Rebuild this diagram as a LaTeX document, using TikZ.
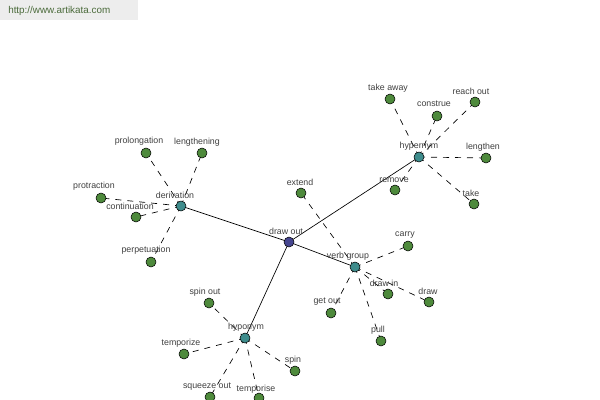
\documentclass[tikz,border=0pt]{standalone}
\usepackage{fontspec}
\setmainfont{Liberation Sans}
\begin{document}
\begin{tikzpicture}[x=0.75pt,y=-0.75pt,
  leaf/.style={circle,draw=black,line width=0.4pt,fill=leafc,minimum size=7.5pt,inner sep=0pt},
  hub/.style={leaf,fill=hubc},
  root/.style={leaf,fill=rootc},
  lbl/.style={font=\fontsize{6.6pt}{7pt}\selectfont,text=lblc,inner sep=0pt},
  solidedge/.style={draw=black,line width=0.5pt},
  dashedge/.style={draw=black,line width=0.5pt,dash pattern=on 4.5pt off 4.5pt}]
\definecolor{leafc}{HTML}{4E8A3C}
\definecolor{hubc}{HTML}{3E8C8C}
\definecolor{rootc}{HTML}{45458F}
\definecolor{lblc}{HTML}{404040}
\definecolor{wmc}{HTML}{4B6B3B}
\useasboundingbox (0,0) rectangle (600,400);
\clip (0,0) rectangle (600,400);
\fill[white] (0,0) rectangle (600,400);
\fill[black!7] (0,0) rectangle (138,20);
\node[font=\fontsize{7.4pt}{8pt}\selectfont,text=wmc,anchor=west,inner sep=0pt] (wm) at (8,11) {http://www.artikata.com};
% positions
\coordinate (pdrawout) at (289,242);
\coordinate (pder) at (181,206);
\coordinate (phyper) at (419,157);
\coordinate (pvg) at (355,267);
\coordinate (phypo) at (245,338);
% edges first (drawn under nodes)
\path[solidedge] (pdrawout) -- (pder) (pdrawout) -- (phyper) (pdrawout) -- (pvg) (pdrawout) -- (phypo);
\foreach \hub/\pts in {pder/{(146,153),(202,153),(101,198),(136,217),(151,262)},
  phyper/{(390,99),(437,116),(475,102),(486,158),(474,204),(395,190)},
  pvg/{(301,193),(408,246),(388,294),(429,302),(331,313),(381,341)},
  phypo/{(209,303),(184,354),(295,371),(210,397),(259,398)}}{
  \foreach \p in \pts {\path[dashedge] (\hub) -- \p;}
}
% hub nodes
\node[root] (drawout) at (pdrawout) {};
\node[hub] (der) at (pder) {};
\node[hub] (hyper) at (phyper) {};
\node[hub] (vg) at (pvg) {};
\node[hub] (hypo) at (phypo) {};
% leaves
\node[leaf] (prolong) at (146,153) {};
\node[leaf] (lengthening) at (202,153) {};
\node[leaf] (protraction) at (101,198) {};
\node[leaf] (continuation) at (136,217) {};
\node[leaf] (perpetuation) at (151,262) {};
\node[leaf] (takeaway) at (390,99) {};
\node[leaf] (construe) at (437,116) {};
\node[leaf] (reachout) at (475,102) {};
\node[leaf] (lengthen) at (486,158) {};
\node[leaf] (take) at (474,204) {};
\node[leaf] (remove) at (395,190) {};
\node[leaf] (extend) at (301,193) {};
\node[leaf] (carry) at (408,246) {};
\node[leaf] (drawin) at (388,294) {};
\node[leaf] (draw) at (429,302) {};
\node[leaf] (getout) at (331,313) {};
\node[leaf] (pull) at (381,341) {};
\node[leaf] (spinout) at (209,303) {};
\node[leaf] (temporize) at (184,354) {};
\node[leaf] (spin) at (295,371) {};
\node[leaf] (squeezeout) at (210,397) {};
\node[leaf] (temporise) at (259,398) {};
% labels
\node[lbl] (ldrawout) at (286,231) {draw out};
\node[lbl] (lder) at (175,195) {derivation};
\node[lbl] (lhyper) at (419,146) {hypernym};
\node[lbl] (lvg) at (348,256) {verb group};
\node[lbl] (lhypo) at (246,327) {hyponym};
\node[lbl] (lprolong) at (139,141) {prolongation};
\node[lbl] (llengthening) at (197,142) {lengthening};
\node[lbl] (lprotraction) at (94,186) {protraction};
\node[lbl] (lcontinuation) at (130,206) {continuation};
\node[lbl] (lperpetuation) at (146,250) {perpetuation};
\node[lbl] (ltakeaway) at (388,88) {take away};
\node[lbl] (lconstrue) at (434,104) {construe};
\node[lbl] (lreachout) at (471,91) {reach out};
\node[lbl] (llengthen) at (483,147) {lengthen};
\node[lbl] (ltake) at (471,193) {take};
\node[lbl] (lremove) at (394,180) {remove};
\node[lbl] (lextend) at (300,182) {extend};
\node[lbl] (lcarry) at (405,235) {carry};
\node[lbl] (ldrawin) at (384,283) {draw in};
\node[lbl] (ldraw) at (428,291) {draw};
\node[lbl] (lgetout) at (327,302) {get out};
\node[lbl] (lpull) at (378,330) {pull};
\node[lbl] (lspinout) at (205,292) {spin out};
\node[lbl] (ltemporize) at (181,343) {temporize};
\node[lbl] (lspin) at (293,360) {spin};
\node[lbl] (lsqueezeout) at (207,387) {squeeze out};
\node[lbl] (ltemporise) at (256,389) {temporise};
\end{tikzpicture}
\end{document}
